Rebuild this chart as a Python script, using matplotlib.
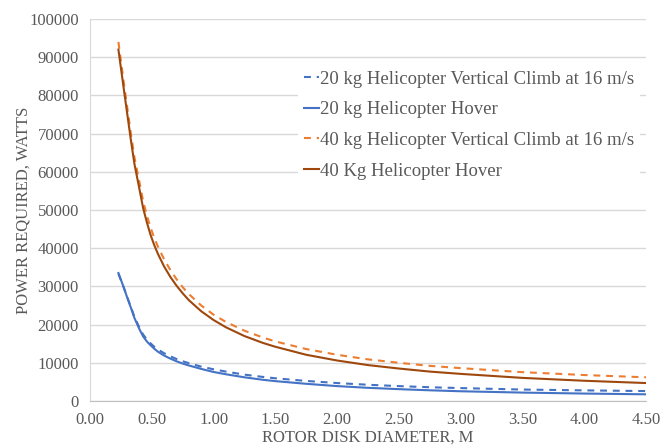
import matplotlib.pyplot as plt
import numpy as np

# rotor disk diameter, m
diameter = [0.23, 0.27, 0.30, 0.33, 0.36, 0.40, 0.43, 0.46, 0.49, 0.52, 0.55,
            0.60, 0.65, 0.70, 0.75, 0.80, 0.90, 1.00, 1.10, 1.25, 1.40, 1.50,
            1.75, 2.00, 2.25, 2.50, 2.75, 3.00, 3.50, 4.00, 4.50]

# power required, W
climb_20 = [33300, 30000, 27300, 24700, 22000, 19200, 17400, 16100, 15100, 14200, 13500,
            12500, 11700, 11000, 10400, 9900, 9000, 8300, 7700, 6900, 6300, 5950,
            5250, 4700, 4250, 3900, 3600, 3380, 3000, 2780, 2600]
hover_20 = [33500, 30000, 27200, 24500, 21700, 18800, 16900, 15600, 14600, 13700, 12900,
            11900, 11100, 10400, 9800, 9300, 8400, 7600, 7000, 6200, 5550, 5200,
            4500, 3900, 3450, 3100, 2800, 2550, 2200, 1950, 1750]
climb_40 = [94000, 84200, 77200, 70200, 63700, 57300, 52300, 48600, 45400, 42700, 40400,
            37100, 34300, 31900, 29800, 28000, 25000, 22600, 20700, 18400, 16600, 15600,
            13600, 12100, 10900, 10000, 9200, 8600, 7550, 6800, 6200]
hover_40 = [92000, 82500, 75500, 68500, 62000, 55500, 50500, 46800, 43500, 40800, 38500,
            35200, 32500, 30200, 28200, 26400, 23500, 21200, 19300, 17000, 15200, 14200,
            12100, 10600, 9400, 8500, 7700, 7100, 6050, 5300, 4700]

labels = ["20 kg Helicopter Vertical Climb at 16 m/s",
          "20 kg Helicopter Hover",
          "40 kg Helicopter Vertical Climb at 16 m/s",
          "40 Kg Helicopter Hover"]

plt.rcParams["font.family"] = ["Liberation Serif", "DejaVu Serif"]
grey = "#595959"

fig = plt.figure(figsize=(6.69, 4.45), dpi=100)
ax = fig.add_axes([90 / 669, 1 - 401 / 445, 556 / 669, 382 / 445])

ax.plot(diameter, climb_20, color="#4472C4", lw=1.5, dashes=(3.3, 2.8), label=labels[0])
ax.plot(diameter, hover_20, color="#4472C4", lw=1.5, label=labels[1])
ax.plot(diameter, climb_40, color="#ED7D31", lw=1.5, dashes=(3.3, 2.8), label=labels[2])
ax.plot(diameter, hover_40, color="#9E480E", lw=1.5, label=labels[3])

ax.set_xlim(0, 4.5)
ax.set_ylim(0, 100000)
ax.set_xticks(np.arange(0, 4.51, 0.5))
ax.set_xticklabels([f"{v:.2f}" for v in np.arange(0, 4.51, 0.5)])
ax.set_yticks(np.arange(0, 100001, 10000))
ax.set_yticklabels([str(v) for v in range(0, 100001, 10000)])
ax.tick_params(axis="x", length=0, labelsize=12, labelcolor=grey, pad=8)
ax.tick_params(axis="y", length=0, labelsize=12, labelcolor=grey, pad=8)

ax.grid(axis="y", color="#d9d9d9", lw=1)
ax.set_axisbelow(True)
for s in ["top", "right"]:
    ax.spines[s].set_visible(False)
ax.spines["left"].set_color("#d9d9d9")
ax.spines["bottom"].set_color("#bfbfbf")

ax.set_xlabel("ROTOR DISK DIAMETER, M", fontsize=12, color=grey, labelpad=1)
ax.set_ylabel("POWER REQUIRED, WATTS", fontsize=12, color=grey, labelpad=-1.5)

leg = ax.legend(loc="upper left", bbox_to_anchor=(298 / 669, 1 - 65 / 445),
                bbox_transform=fig.transFigure, fontsize=13.5, frameon=True,
                facecolor="white", edgecolor="none", framealpha=1, fancybox=False,
                handlelength=0.8, handletextpad=0.1, labelspacing=0.72,
                borderpad=0.3, borderaxespad=0)
for t in leg.get_texts():
    t.set_color(grey)

fig.savefig("out.png", dpi=100)
